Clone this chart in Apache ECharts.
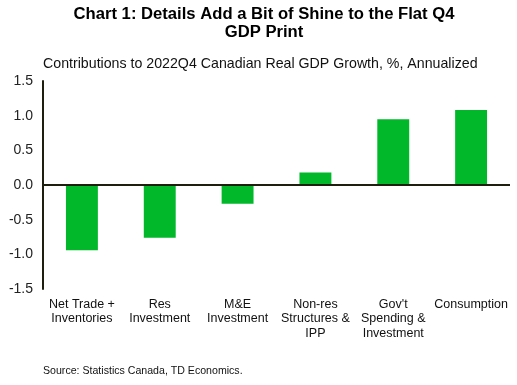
<!DOCTYPE html>
<html><head><meta charset="utf-8">
<script src="https://cdn.jsdelivr.net/npm/echarts@6/dist/echarts.min.js"></script>
<style>html,body{margin:0;padding:0;background:#fff}#c{width:517px;height:385px}</style>
</head><body><div id="c"></div>
<script>
const categories = ['Net Trade +\nInventories','Res\nInvestment','M&E\nInvestment','Non-res\nStructures &\nIPP','Gov\'t\nSpending &\nInvestment','Consumption'];
const values = [-0.94, -0.76, -0.27, 0.18, 0.95, 1.08];
const yTicks = [-1.5, 1.5, 0.5];
const font = 'Liberation Sans, Arial, sans-serif';
const chart = echarts.init(document.getElementById('c'));
chart.setOption({
  animation: false,
  graphic: [
    {type:'text', x: 264, y: 15, scaleX: 1.04, style:{text:'Chart 1: Details Add a Bit of Shine to the Flat Q4', font:'bold 16px '+font, fill:'#000', textAlign:'center', textVerticalAlign:'middle'}},
    {type:'text', x: 264, y: 33, scaleX: 1.04, style:{text:'GDP Print', font:'bold 16px '+font, fill:'#000', textAlign:'center', textVerticalAlign:'middle'}},
    {type:'text', x: 43, y: 64, style:{text:'Contributions to 2022Q4 Canadian Real GDP Growth, %, Annualized', font:'14.2px '+font, fill:'#111', textAlign:'left', textVerticalAlign:'middle'}},
    {type:'text', x: 43, y: 371, style:{text:'Source: Statistics Canada, TD Economics.', font:'10.6px '+font, fill:'#111', textAlign:'left', textVerticalAlign:'middle'}}
  ],
  grid: {left: 43, right: 7, top: 81, bottom: 96},
  xAxis: {
    type: 'category', data: categories,
    axisLine: {show: false, onZero: false}, axisTick: {show: false},
    axisLabel: {fontFamily: font, fontSize: 12.5, color: '#111', lineHeight: 14.5, margin: 8, interval: 0}
  },
  yAxis: {
    type: 'value', min: yTicks[0], max: yTicks[1], interval: yTicks[2],
    axisLine: {show: true, lineStyle: {color: '#1f1f10', width: 2}},
    axisTick: {show: false}, splitLine: {show: false},
    axisLabel: {fontFamily: font, fontSize: 14, color: '#222', margin: 10, formatter: v => v.toFixed(1)}
  },
  series: [{
    type: 'bar', data: values, barWidth: '41%',
    itemStyle: {color: '#00b82a'},
    markLine: {silent: true, symbol: 'none', label: {show: false},
      lineStyle: {color: '#1f1f10', width: 2, type: 'solid'},
      data: [{yAxis: 0}]}
  }]
});
</script></body></html>
